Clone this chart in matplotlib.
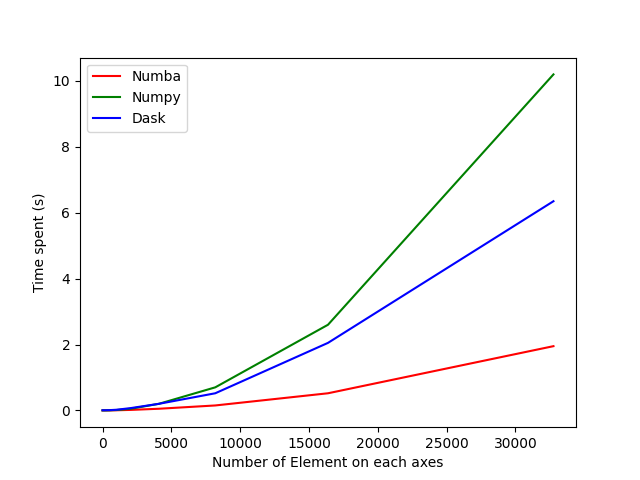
import matplotlib.pyplot as plt
import numpy as np

sizes = [1, 2, 4, 8, 16, 32, 64, 128, 256, 512, 1024, 2048, 4096, 8192, 16384, 32768]
numba_times = [0.0, 0.0, 0.0, 0.0, 0.0, 0.0, 0.0, 0.0, 0.0, 0.001, 0.004, 0.015, 0.05, 0.15, 0.52, 1.95]
numpy_times = [0.0, 0.0, 0.0, 0.0, 0.0, 0.0, 0.0, 0.0, 0.001, 0.003, 0.012, 0.05, 0.2, 0.7, 2.6, 10.2]
dask_times = [0.005, 0.005, 0.005, 0.005, 0.005, 0.005, 0.005, 0.005, 0.006, 0.008, 0.02, 0.07, 0.2, 0.52, 2.05, 6.35]

plt.plot(sizes, numba_times, color="red", label="Numba")
plt.plot(sizes, numpy_times, color="green", label="Numpy")
plt.plot(sizes, dask_times, color="blue", label="Dask")
plt.xlabel("Number of Element on each axes")
plt.ylabel("Time spent (s)")
plt.legend(loc="upper left")
plt.savefig("out.png")
